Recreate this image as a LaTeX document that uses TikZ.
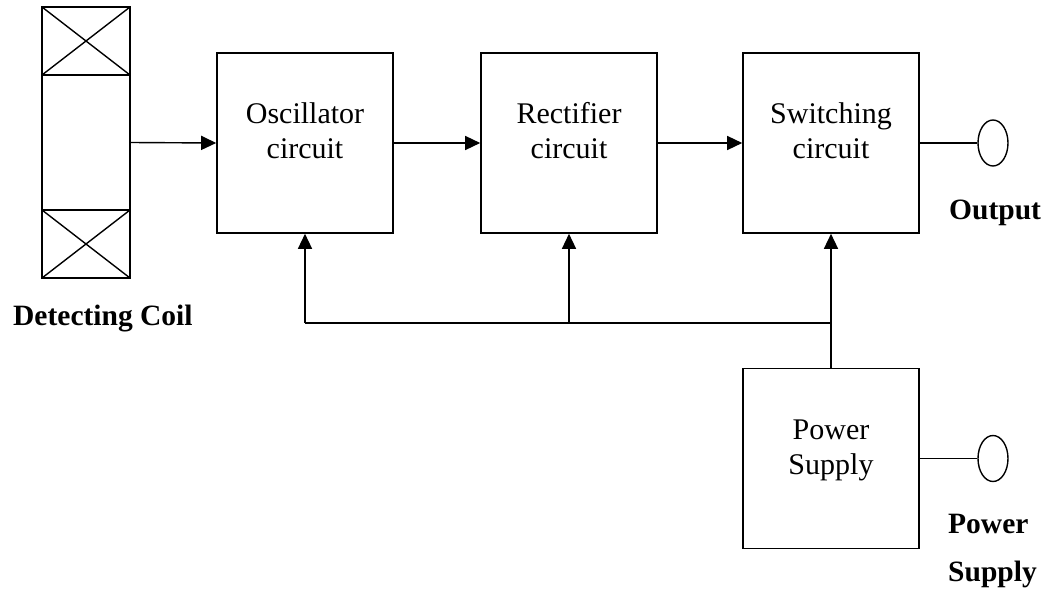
\documentclass[tikz,border=0pt]{standalone}
\usepackage{fontspec}
\setmainfont{Liberation Serif}
\usetikzlibrary{arrows.meta,shapes.geometric}
\begin{document}
\begin{tikzpicture}[x=1pt,y=-1pt,
  blk/.style={draw, line width=1.6pt, minimum width=176pt, minimum height=180pt, inner sep=0pt},
  arr/.style={line width=1.4pt, -{Triangle[length=15pt,width=14pt]}},
  wire/.style={line width=1.4pt},
  term/.style={draw, ellipse, line width=1.4pt, minimum width=30pt, minimum height=46pt, inner sep=0pt},
  txt/.style={font=\fontsize{30}{35}\selectfont, inner sep=0pt, anchor=base},
  lbl/.style={font=\fontsize{29.5}{35}\selectfont\bfseries, inner sep=0pt, anchor=base west}
]
\useasboundingbox (0,0) rectangle (1047,594);

% detecting coil
\node[draw, line width=1.6pt, minimum width=88pt, minimum height=271pt, inner sep=0pt] (coil) at (86,142.5) {};
\draw[wire] (42,75) -- (130,75);
\draw[wire] (42,7) -- (130,75);
\draw[wire] (130,7) -- (42,75);
\draw[wire] (42,210) -- (130,210);
\draw[wire] (42,210) -- (130,278);
\draw[wire] (130,210) -- (42,278);

% blocks
\node[blk] (osc) at (305,143) {};
\node[blk] (rect) at (569,143) {};
\node[blk] (sw) at (831,143) {};
\node[blk] (pwr) at (831,458.5) {};

\node[txt] (osctxt) at (305,123) {\begin{tabular}[t]{@{}c@{}}Oscillator\\circuit\end{tabular}};
\node[txt] (recttxt) at (569,123) {\begin{tabular}[t]{@{}c@{}}Rectifier\\circuit\end{tabular}};
\node[txt] (swtxt) at (831,123) {\begin{tabular}[t]{@{}c@{}}Switching\\circuit\end{tabular}};
\node[txt] (pwrtxt) at (831,439) {\begin{tabular}[t]{@{}c@{}}Power\\Supply\end{tabular}};

% terminals
\node[term] (out) at (993,143) {};
\node[term] (pin) at (993,458.5) {};

% connectors
\draw[arr] (coil.east) -- (osc.west);
\draw[arr] (osc.east) -- (rect.west);
\draw[arr] (rect.east) -- (sw.west);
\draw[wire] (sw.east) -- (out.west);
\draw[wire] (pwr.east) -- (pin.west);

\coordinate (bl) at (305,323);
\coordinate (bm) at (569,323);
\coordinate (br) at (831,323);
\draw[wire] (bl) -- (br);
\draw[arr] (bl) -- (osc.south);
\draw[arr] (bm) -- (rect.south);
\draw[arr] (pwr.north) -- (sw.south);

% labels
\node[lbl] (coillbl) at (13,325) {Detecting Coil};
\node[lbl] (outlbl) at (949,219) {Output};
\node[lbl] (pwrlbl1) at (948,533) {Power};
\node[lbl] (pwrlbl2) at (948,581) {Supply};
\end{tikzpicture}
\end{document}
